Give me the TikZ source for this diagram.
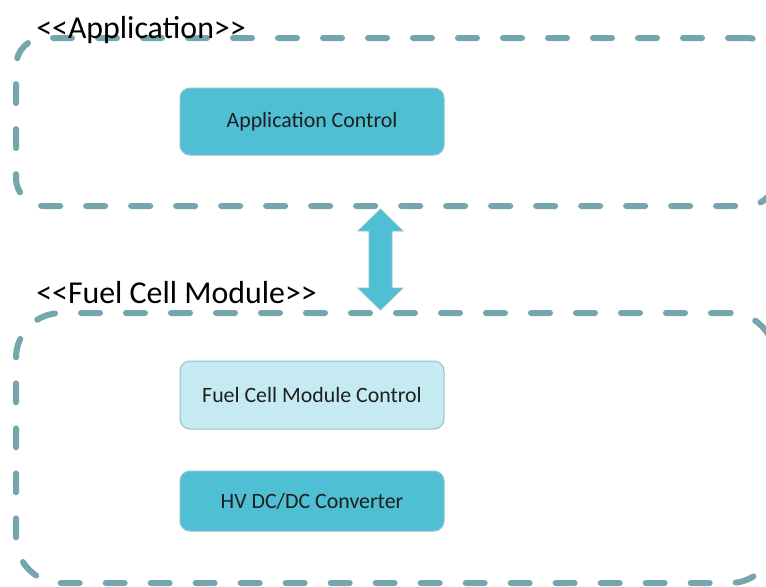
\documentclass[tikz,border=0pt]{standalone}
\usepackage{fontspec}
\setmainfont{Carlito}
\usetikzlibrary{calc}
\definecolor{dashc}{HTML}{76A6AD}
\definecolor{boxdark}{HTML}{4FBFD3}
\definecolor{boxlight}{HTML}{C6EAF2}
\definecolor{boxedge}{HTML}{8CC3CD}
\definecolor{txt}{HTML}{1E1E1E}
\tikzset{
  container/.style={draw=dashc, line width=4.5pt, line cap=round,
    dash pattern=on 14.25pt off 19.5pt, minimum width=759*0.75pt, inner sep=0pt},
  compbox/.style={draw=boxedge, line width=0.75pt, rounded corners=7.5pt,
    minimum width=264*0.75pt, inner sep=0pt, text=txt,
    font=\fontsize{16.4}{20}\selectfont},
  title/.style={anchor=base west, inner sep=0pt, text=black,
    font=\fontsize{23.9}{28}\selectfont},
  bigarrow/.style={fill=boxdark, draw=boxedge, line width=0.6pt}
}
\begin{document}
\begin{tikzpicture}[x=0.75pt,y=-0.75pt]
\useasboundingbox (0,0) rectangle (766,586);
\clip (0,0) rectangle (766,586);
\node[container, minimum height=168*0.75pt, rounded corners=21pt] (app) at (395.5,122) {};
\node[container, minimum height=270*0.75pt, rounded corners=33.75pt] (fcm) at (395.5,448) {};
\node[compbox, fill=boxdark, minimum height=67*0.75pt] (appctl) at (312,121.5) {Application Control};
\node[compbox, fill=boxlight, minimum height=68*0.75pt] (fcmctl) at (312,395) {Fuel Cell Module Control};
\node[compbox, fill=boxdark, minimum height=60*0.75pt] (hv) at (312,501) {HV DC/DC Converter};
\node[title] (apptitle) at (36,38) {<{}<Application>{}>};
\node[title] (fcmtitle) at (36,303) {<{}<Fuel Cell Module>{}>};
\coordinate (atop) at (app.south -| 380.5,0);
\coordinate (abot) at (fcm.north -| 380.5,0);
\draw[bigarrow] (atop) -- ($(atop)+(22.5,22)$) -- ($(atop)+(11.5,22)$)
  -- ($(abot)+(11.5,-22)$) -- ($(abot)+(22.5,-22)$) -- (abot)
  -- ($(abot)+(-22.5,-22)$) -- ($(abot)+(-11.5,-22)$)
  -- ($(atop)+(-11.5,22)$) -- ($(atop)+(-22.5,22)$) -- cycle;
\end{tikzpicture}
\end{document}
